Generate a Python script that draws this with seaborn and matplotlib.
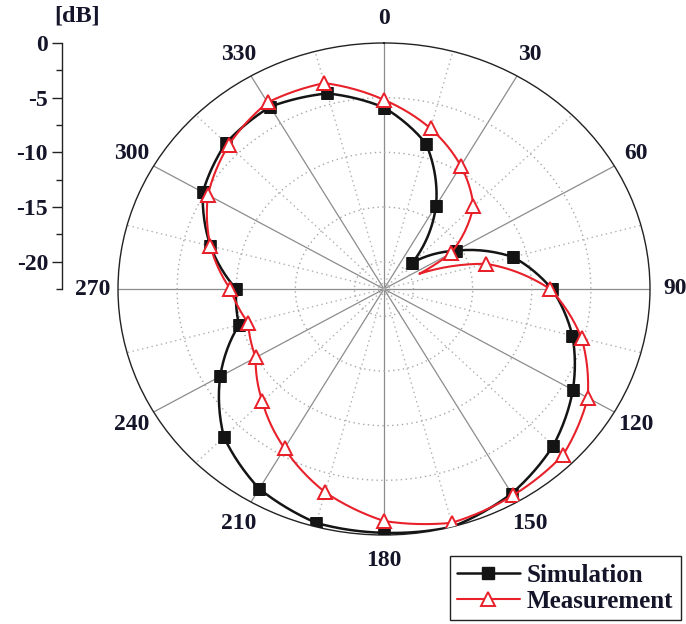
import numpy as np
import pandas as pd
import matplotlib
matplotlib.use("Agg")
import matplotlib.pyplot as plt
import seaborn as sns
from matplotlib.ticker import FixedLocator
from matplotlib.lines import Line2D

# ---------------- data ----------------
sim_angles = [0, 15, 30, 45, 60, 75, 90, 105, 120, 135, 150, 165,
              180, 195, 210, 225, 240, 255, 270, 285, 300, 315, 330, 345]
sim_db = [-5.9, -8.75, -13.7, -19.1, -15.5, -11.2, -8.3, -6.0, -4.05, -2.25, -0.9, 0.0,
          -0.2, -0.35, -1.4, -3.35, -6.5, -9.8, -10.0, -7.3, -4.8, -3.6, -3.25, -3.98]

meas_angles = [0, 15, 30, 45, 60, 65, 75, 90, 105, 120, 135, 150, 165,
               180, 195, 210, 225, 240, 255, 270, 285, 300, 315, 330, 345]
meas_db = [-5.2, -7.3, -9.5, -11.8, -16.0, -19.2, -13.6, -8.46, -5.2, -2.6, -1.06, -0.7, -0.36,
           -1.28, -3.26, -5.67, -7.95, -9.97, -10.6, -9.5, -7.3, -5.3, -3.9, -2.8, -3.0]

theta_ticks = list(range(0, 360, 30))
theta_labels = [str(a) for a in theta_ticks]
db_ticks = [0, -5, -10, -15, -20]
series_names = ["Simulation", "Measurement"]

# ---------------- style ----------------
sns.set_theme(style="white")
plt.rcParams["font.family"] = ["Liberation Serif", "DejaVu Serif"]
plt.rcParams["font.weight"] = "bold"

BLACK = "#141414"
RED = "#e8202a"
TXT = "#15152a"
FS = 17


def closed_frame(angles, vals):
    a = list(angles) + [angles[0] + 360]
    v = list(vals) + [vals[0]]
    return pd.DataFrame({"theta": np.deg2rad(a), "db": v, "deg": a})


sim_df = closed_frame(sim_angles, sim_db)
meas_df = closed_frame(meas_angles, meas_db)
# the 165 deg simulation square sits on the outer ring and is not visible in the reference
sim_marks = [i for i, d in enumerate(sim_df["deg"][:-1]) if d != 165]
meas_marks = [i for i, d in enumerate(meas_df["deg"][:-1]) if d % 15 == 0]

fig = plt.figure(figsize=(6.86, 6.24), dpi=100)
fig.patch.set_facecolor("white")

ax = fig.add_axes([118 / 686, 1 - 535 / 624, 532 / 686, (535 - 43) / 624],
                  projection="polar")
ax.set_theta_zero_location("N")
ax.set_theta_direction(-1)

sns.lineplot(data=sim_df, x="theta", y="db", sort=False, estimator=None, ax=ax,
             color=BLACK, linewidth=1.8, marker="s", markersize=8,
             markerfacecolor=BLACK, markeredgecolor=BLACK, markeredgewidth=0.5,
             markevery=sim_marks, legend=False, zorder=3)
sns.lineplot(data=meas_df, x="theta", y="db", sort=False, estimator=None, ax=ax,
             color=RED, linewidth=1.5, marker="^", markersize=10.5,
             markerfacecolor="white", markeredgecolor=RED, markeredgewidth=1.4,
             markevery=meas_marks, legend=False, zorder=4)

for ln in ax.lines:
    ln.get_path()._interpolation_steps = 16

ax.set_aspect("auto")
ax.set_xlabel("")
ax.set_ylabel("")
ax.set_ylim(-22.5, 0)

ax.set_yticks([-20, -15, -10, -5])
ax.set_yticklabels([])
ax.yaxis.grid(True, linestyle=(0, (1, 2.5)), color="#a8a8a8", linewidth=1.0)

ax.set_xticks(np.deg2rad(theta_ticks))
ax.set_xticklabels(theta_labels, fontsize=FS, fontweight="bold", color=TXT)
ax.xaxis.set_minor_locator(FixedLocator(np.deg2rad(np.arange(15, 360, 30))))
ax.xaxis.grid(True, which="major", color="#8c8c8c", linewidth=0.9, linestyle="-")
ax.xaxis.grid(True, which="minor", color="#b0b0b0", linewidth=1.0, linestyle=(0, (1, 2.5)))
ax.tick_params(axis="x", which="minor", direction="in", length=5, width=1.0, color="#222222")
ax.tick_params(axis="x", which="major", direction="in", length=5, width=1.0,
               color="#222222", pad=11)
ax.spines["polar"].set_color("#222222")
ax.spines["polar"].set_linewidth(1.0)
ax.set_facecolor("white")

# ---------------- left dB axis ----------------
ax2 = fig.add_axes([62 / 686, 1 - 289 / 624, 0.0005, (289 - 43) / 624])
ax2.set_ylim(-22.5, 0)
for s in ["top", "right", "bottom"]:
    ax2.spines[s].set_visible(False)
ax2.spines["left"].set_color("#222222")
ax2.spines["left"].set_linewidth(1.0)
ax2.set_xticks([])
ax2.set_yticks(db_ticks)
ax2.set_yticklabels([str(t) for t in db_ticks], fontsize=FS, fontweight="bold", color=TXT)
ax2.yaxis.set_minor_locator(FixedLocator(np.arange(-2.5, -23, -5)))
ax2.tick_params(axis="y", which="major", direction="out", length=7, width=1.0,
                color="#222222", pad=3, left=True)
ax2.tick_params(axis="y", which="minor", direction="out", length=4, width=1.0,
                color="#222222", left=True)
ax2.patch.set_visible(False)

fig.text(77 / 686, 1 - 16 / 624, "[dB]", ha="center", va="center",
         fontsize=FS + 0.5, fontweight="bold", color=TXT)

# ---------------- legend ----------------
handles = [
    Line2D([], [], color=BLACK, linewidth=1.8, marker="s", markersize=8,
           markerfacecolor=BLACK, markeredgecolor=BLACK),
    Line2D([], [], color=RED, linewidth=1.5, marker="^", markersize=10.5,
           markerfacecolor="white", markeredgecolor=RED, markeredgewidth=1.4),
]
leg = fig.legend(handles, series_names, loc="lower right",
                 bbox_to_anchor=(681 / 686, 4 / 624), frameon=True, fancybox=False,
                 edgecolor="#222222", framealpha=1, handlelength=2.5,
                 handletextpad=0.3, borderpad=0.3, labelspacing=0.12,
                 borderaxespad=0, prop={"size": 18, "weight": "bold"})
leg.get_frame().set_linewidth(1.0)
for t in leg.get_texts():
    t.set_color(TXT)

fig.savefig("out.png", dpi=100, facecolor="white")
